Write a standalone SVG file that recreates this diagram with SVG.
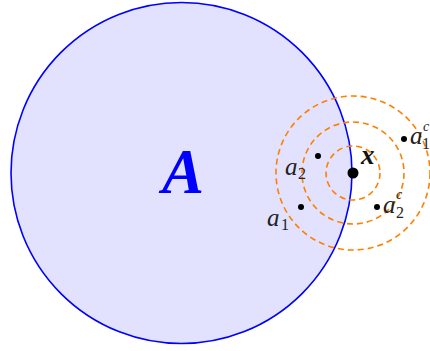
<svg xmlns="http://www.w3.org/2000/svg" width="430" height="351" viewBox="0 0 430 351">
<style>
.dash{fill:none;stroke:#ff8000;stroke-width:1.6;stroke-dasharray:6 4}
.pt{fill:#000}
.lbl{font-family:"Liberation Serif","DejaVu Serif",serif;font-style:italic;font-size:25px;fill:#222}
.sub{font-family:"Liberation Serif","DejaVu Serif",serif;font-size:16px;fill:#222}
.sup{font-family:"Liberation Serif","DejaVu Serif",serif;font-style:italic;font-size:14px;fill:#222}
</style>
<rect width="430" height="351" fill="#fff"/>
<g id="A">
<circle cx="181.5" cy="173" r="170.5" fill="#e2e2ff" stroke="#0000ff" stroke-width="1.6"/>
<text x="183" y="193" text-anchor="middle" font-family="'Liberation Serif','DejaVu Serif',serif" font-style="italic" font-weight="bold" font-size="63" fill="#0000ff">A</text>
</g>
<g id="balls">
<circle class="dash" cx="353" cy="173" r="27"/>
<circle class="dash" cx="353" cy="173" r="51"/>
<circle class="dash" cx="353" cy="173" r="77"/>
</g>
<g id="x">
<circle class="pt" cx="353" cy="173" r="5.5"/>
<text x="361" y="164" font-family="'Liberation Serif','DejaVu Serif',serif" font-style="italic" font-weight="bold" font-size="27" fill="#111">x</text>
</g>
<g id="a2">
<circle class="pt" cx="318" cy="156" r="3"/>
<text class="lbl" x="285" y="175">a</text>
<text class="sub" x="298" y="179">2</text>
</g>
<g id="a1">
<circle class="pt" cx="301" cy="207" r="3"/>
<text class="lbl" x="267" y="226">a</text>
<text class="sub" x="281" y="230">1</text>
</g>
<g id="a1c">
<circle class="pt" cx="404" cy="139" r="3"/>
<text class="lbl" x="410" y="144">a</text>
<text class="sup" x="423" y="131">c</text>
<text class="sub" x="422" y="149">1</text>
</g>
<g id="a2c">
<circle class="pt" cx="377" cy="207" r="3"/>
<text class="lbl" x="383" y="213">a</text>
<text class="sup" x="396" y="199">c</text>
<text class="sub" x="396" y="218">2</text>
</g>
</svg>
